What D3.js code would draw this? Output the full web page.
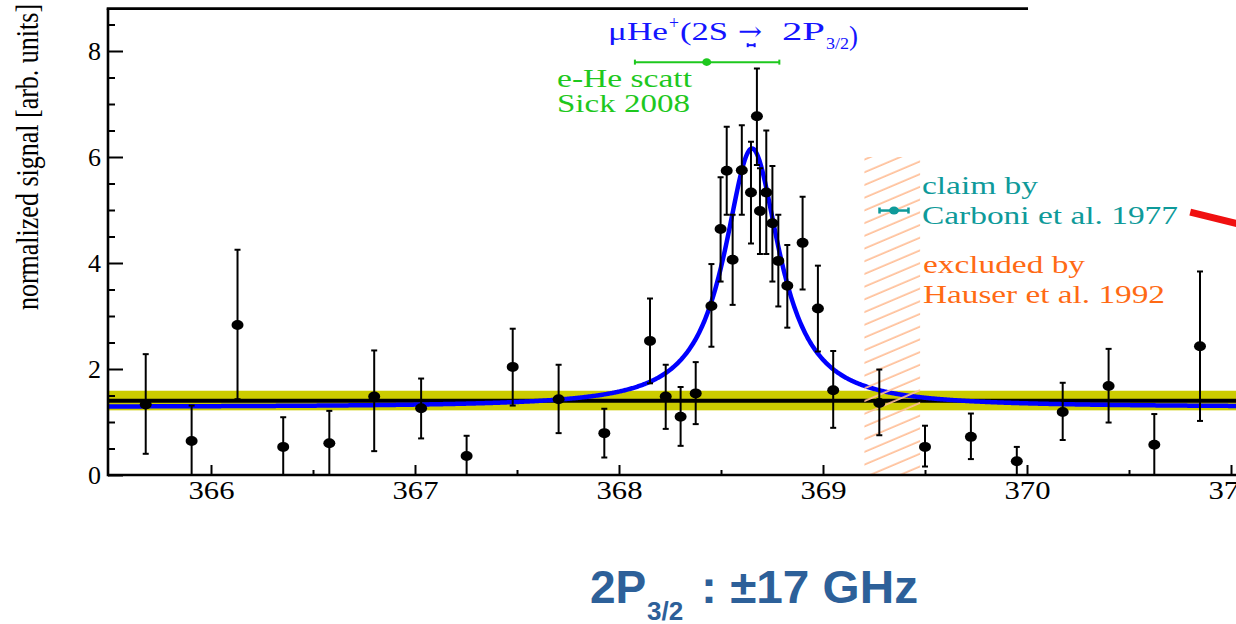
<!DOCTYPE html>
<html>
<head>
<meta charset="utf-8">
<script src="https://cdn.jsdelivr.net/npm/d3@7"></script>
<style>
  html, body { margin: 0; padding: 0; background: #ffffff; overflow: hidden; }
  svg { display: block; }
</style>
</head>
<body>
<svg id="chart" width="1236" height="624"></svg>
<script>
// Measured scan: laser frequency [THz] and normalized signal with error bounds
const freq = [365.68, 365.905, 366.13, 366.354, 366.58, 366.80, 367.03, 367.253, 367.479, 367.704,
              367.928, 368.152, 368.229, 368.302, 368.376, 368.453, 368.498, 368.528, 368.557, 368.602,
              368.647, 368.676, 368.691, 368.722, 368.752, 368.781, 368.825, 368.90, 368.975, 369.05,
              369.276, 369.50, 369.725, 369.95, 370.175, 370.40, 370.624, 370.848];
const signal = [1.33, 0.64, 2.83, 0.53, 0.60, 1.48, 1.26, 0.36, 2.04, 1.43,
                0.79, 2.53, 1.48, 1.10, 1.54, 3.19, 4.64, 5.74, 4.06, 5.75,
                5.33, 6.77, 4.98, 5.33, 4.75, 4.04, 3.57, 4.38, 3.14, 1.60,
                1.36, 0.53, 0.72, 0.26, 1.19, 1.68, 0.57, 2.43];
const errHigh = [2.28, 1.31, 4.25, 1.09, 1.21, 2.35, 1.82, 0.74, 2.76, 2.08,
                 1.25, 3.33, 2.08, 1.66, 2.13, 3.98, 5.62, 6.57, 4.91, 6.60,
                 6.29, 7.67, 5.79, 6.50, 5.83, 4.91, 4.34, 5.25, 3.95, 2.34,
                 1.99, 0.93, 1.16, 0.53, 1.74, 2.38, 1.15, 3.84];
const errLow = [0.40, -0.05, 1.43, -0.05, -0.05, 0.45, 0.69, -0.05, 1.31, 0.79,
                0.33, 1.73, 0.87, 0.55, 0.96, 2.42, 3.65, 4.91, 3.21, 4.91,
                4.37, 5.85, 4.17, 4.17, 3.65, 3.18, 2.78, 3.50, 2.33, 0.89,
                0.75, 0.16, 0.30, -0.05, 0.66, 0.99, -0.05, 1.02];

const xTicks = [366, 367, 368, 369, 370, 371];
const xMinorTicks = [366.5, 367.5, 368.5, 369.5, 370.5];
const yTicks = [0, 2, 4, 6, 8];
const yMinorTicks = [0.5, 1, 1.5, 2.5, 3, 3.5, 4.5, 5, 5.5, 6.5, 7, 7.5, 8.5];

// Lorentzian resonance fit and flat (no-resonance) hypothesis
const fitCenter = 368.652, fitHalfWidth = 0.165, fitAmplitude = 4.88, fitBase = 1.28;
const flatLevel = 1.40, flatBandLow = 1.22, flatBandHigh = 1.59;

// Reference values drawn as horizontal error bars
const muHe = { center: 368.648, err: 0.017, level: 8.11 };
const scatt = { center: 368.43, low: 368.078, high: 368.786, level: 7.79 };
const carboni = { center: 369.348, err: 0.071, level: 4.99 };
const hauser = { low: 369.203, high: 369.476, top: 6.0 };
const redPointer = { from: [370.80, 4.96], to: [371.12, 4.66] };

const svg = d3.select('#chart');
const serif = "'Liberation Serif', 'Times New Roman', serif";

const x = d3.scaleLinear().domain([365.5, 371.0]).range([109, 1231]);
const y = d3.scaleLinear().domain([0, 8.8]).range([475, 8.6]);

svg.append('defs').append('clipPath').attr('id', 'plotClip')
  .append('rect').attr('x', x(365.5)).attr('y', y(8.8)).attr('width', 1236 - x(365.5)).attr('height', y(0) - y(8.8));

const hatch = svg.select('defs').append('pattern')
  .attr('id', 'hatch').attr('patternUnits', 'userSpaceOnUse')
  .attr('width', 40).attr('height', 11.7)
  .attr('patternTransform', 'rotate(-23)');
hatch.append('line').attr('x1', 0).attr('x2', 40).attr('y1', 5).attr('y2', 5)
  .attr('stroke', '#ffbf98').attr('stroke-width', 1.6);

const plot = svg.append('g').attr('clip-path', 'url(#plotClip)');

// flat background band and line
plot.append('rect')
  .attr('x', x(365.5)).attr('width', 1236 - x(365.5))
  .attr('y', y(flatBandHigh)).attr('height', y(flatBandLow) - y(flatBandHigh))
  .attr('fill', '#cccc00');
plot.append('line')
  .attr('x1', x(365.5)).attr('x2', 1236)
  .attr('y1', y(flatLevel)).attr('y2', y(flatLevel))
  .attr('stroke', '#000').attr('stroke-width', 4);

// Lorentzian fit curve
const fitFreq = d3.range(365.5, 371.3, 0.004);
const lorentz = f => fitBase + fitAmplitude / (1 + Math.pow((f - fitCenter) / fitHalfWidth, 2));
plot.append('path')
  .datum(fitFreq)
  .attr('d', d3.line().x(f => x(f)).y(f => y(lorentz(f))))
  .attr('fill', 'none').attr('stroke', '#0000ff').attr('stroke-width', 4.5);

// excluded region (hatched)
plot.append('rect')
  .attr('x', x(hauser.low)).attr('width', x(hauser.high) - x(hauser.low))
  .attr('y', y(hauser.top)).attr('height', y(0) - y(hauser.top))
  .attr('fill', 'url(#hatch)');

// data points with vertical error bars
const pts = freq.map((f, i) => ({ f, v: signal[i], lo: errLow[i], hi: errHigh[i] }));
const pg = plot.append('g').attr('stroke', '#000').attr('stroke-width', 2);
pts.forEach(d => {
  pg.append('line').attr('x1', x(d.f)).attr('x2', x(d.f)).attr('y1', y(d.lo)).attr('y2', y(d.hi));
  pg.append('line').attr('x1', x(d.f) - 3).attr('x2', x(d.f) + 3).attr('y1', y(d.hi)).attr('y2', y(d.hi));
  pg.append('line').attr('x1', x(d.f) - 3).attr('x2', x(d.f) + 3).attr('y1', y(d.lo)).attr('y2', y(d.lo));
});
plot.append('g').selectAll('ellipse').data(pts).join('ellipse')
  .attr('cx', d => x(d.f)).attr('cy', d => y(d.v))
  .attr('rx', 6).attr('ry', 5).attr('fill', '#000');

// horizontal error bar helper
function hbar(g, lo, hi, c, level, color, width, capH, rx, ry) {
  g.append('line').attr('x1', x(lo)).attr('x2', x(hi)).attr('y1', y(level)).attr('y2', y(level))
    .attr('stroke', color).attr('stroke-width', width);
  [lo, hi].forEach(e => g.append('line').attr('x1', x(e)).attr('x2', x(e))
    .attr('y1', y(level) - capH).attr('y2', y(level) + capH)
    .attr('stroke', color).attr('stroke-width', width));
  if (rx > 0) g.append('ellipse').attr('cx', x(c)).attr('cy', y(level)).attr('rx', rx).attr('ry', ry).attr('fill', color);
}
const ann = svg.append('g');
hbar(ann, scatt.low, scatt.high, scatt.center, scatt.level, '#1ec81e', 2, 2.5, 4.5, 3.8);
hbar(ann, carboni.center - carboni.err, carboni.center + carboni.err, carboni.center, carboni.level, '#0e9a9a', 2.5, 3, 5, 4);
hbar(ann, muHe.center - muHe.err, muHe.center + muHe.err, muHe.center, muHe.level, '#1414ff', 2, 2, 0, 0);

// red pointer
svg.append('line')
  .attr('x1', x(redPointer.from[0])).attr('y1', y(redPointer.from[1]))
  .attr('x2', x(redPointer.to[0])).attr('y2', y(redPointer.to[1]))
  .attr('stroke', '#f01010').attr('stroke-width', 7);

// axes
const axisG = svg.append('g');
const xMajor = axisG.append('g').attr('transform', `translate(0,${y(0)})`)
  .call(d3.axisBottom(x).tickValues(xTicks).tickSize(-10).tickSizeOuter(0).tickPadding(6).tickFormat(d3.format('d')));
const xMinor = axisG.append('g').attr('transform', `translate(0,${y(0)})`)
  .call(d3.axisBottom(x).tickValues(xMinorTicks).tickSize(-5).tickSizeOuter(0).tickFormat(''));
const yMajor = axisG.append('g').attr('transform', `translate(${x(365.5) - 1},0)`)
  .call(d3.axisLeft(y).tickValues(yTicks).tickSize(-15).tickSizeOuter(0).tickPadding(7).tickFormat(d3.format('d')));
const yMinor = axisG.append('g').attr('transform', `translate(${x(365.5) - 1},0)`)
  .call(d3.axisLeft(y).tickValues(yMinorTicks).tickSize(-7).tickSizeOuter(0).tickFormat(''));
[xMajor, xMinor, yMajor, yMinor].forEach(g => {
  g.select('.domain').remove();
  g.selectAll('.tick line').attr('stroke', '#000').attr('stroke-width', 2);
  g.selectAll('.tick text').attr('fill', '#000').style('font-family', serif).style('font-size', '26px');
});
xMajor.selectAll('.tick text').attr('textLength', 46).attr('lengthAdjust', 'spacingAndGlyphs');

axisG.append('line').attr('x1', x(365.5) - 1).attr('x2', 1236).attr('y1', y(0)).attr('y2', y(0))
  .attr('stroke', '#000').attr('stroke-width', 2.6);
axisG.append('line').attr('x1', x(365.5) - 1).attr('x2', x(365.5) - 1).attr('y1', y(8.8)).attr('y2', y(0) + 1.3)
  .attr('stroke', '#000').attr('stroke-width', 2.6);
axisG.append('line').attr('x1', x(365.5) - 2.3).attr('x2', x(370.005)).attr('y1', y(8.8)).attr('y2', y(8.8))
  .attr('stroke', '#000').attr('stroke-width', 2.6);

// y-axis title
svg.append('text')
  .attr('transform', 'translate(38,157) scale(1.22,1) rotate(-90)')
  .attr('text-anchor', 'middle')
  .style('font-family', serif).style('font-size', '26px').attr('fill', '#000')
  .text('normalized signal [arb. units]');

// text labels
function label(txt, px, py, size, color, len, family) {
  const t = svg.append('text').attr('x', px).attr('y', py)
    .style('font-family', family || serif).style('font-size', size + 'px').attr('fill', color).text(txt);
  if (len) t.attr('textLength', len).attr('lengthAdjust', 'spacingAndGlyphs');
  return t;
}
const titleBlue = '#1414ff';
label('\u03bcHe', 608, 40, 26, titleBlue, 60);
label('+', 669, 29, 18, titleBlue, 10);
label('(2S', 680, 40, 26, titleBlue, 48);
label('\u2192', 738, 40, 26, titleBlue, 24, "'DejaVu Serif', serif");
label('2P', 782, 40, 26, titleBlue, 43);
label('3/2', 826, 49, 17, titleBlue, 23);
label(')', 849, 45, 28, titleBlue, 9);

label('e-He scatt', 557, 87, 26, '#1ec81e', 135);
label('Sick 2008', 557, 112, 26, '#1ec81e', 133);

label('claim by', 922, 194, 26, '#0e9a9a', 116);
label('Carboni et al. 1977', 922, 224, 26, '#0e9a9a', 256);

label('excluded by', 923, 273, 26, '#ff6a14', 162);
label('Hauser et al. 1992', 923, 303, 26, '#ff6a14', 242);

// bottom heading
const sans = "'Liberation Sans', Arial, sans-serif";
const headColor = '#2d6099';
label('2P', 590, 603, 46, headColor, null, sans).style('font-weight', 'bold');
label('3/2', 647, 620, 26, headColor, null, sans).style('font-weight', 'bold');
label(': \u00b117 GHz', 701, 603, 46, headColor, 217, sans).style('font-weight', 'bold');
</script>
</body>
</html>
